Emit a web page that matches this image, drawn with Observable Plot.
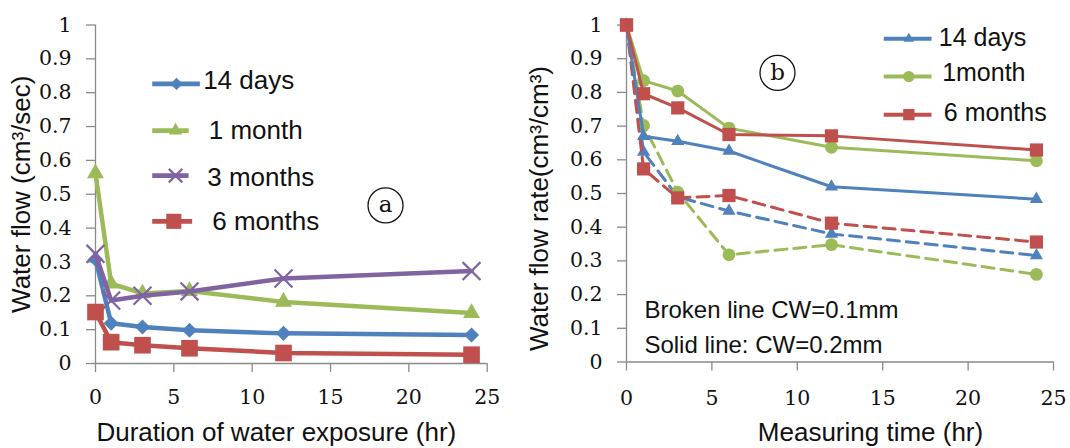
<!DOCTYPE html>
<html><head><meta charset="utf-8">
<script src="https://cdn.jsdelivr.net/npm/d3@7"></script>
<script src="https://cdn.jsdelivr.net/npm/@observablehq/plot@0.6"></script>
<style>
html,body{margin:0;padding:0;background:#fff;}
#wrap{position:relative;width:1070px;height:448px;overflow:hidden;background:#fff;}
#wrap > svg{position:absolute;top:0;}
</style></head><body><div id="wrap"></div>
<script>
// ---------- shared ----------
const hours = [0, 1, 3, 6, 12, 24];
const xTicks = [0, 5, 10, 15, 20, 25];
const yTicks = [0, 0.1, 0.2, 0.3, 0.4, 0.5, 0.6, 0.7, 0.8, 0.9, 1];

// ---------- panel (a): water flow (cm3/sec) ----------
const seriesA = ["14 days", "1 month", "3 months", "6 months"];
const flowA14Days   = [0.308, 0.119, 0.108, 0.098, 0.089, 0.084];
const flowA1Month   = [0.562, 0.236, 0.207, 0.214, 0.182, 0.149];
const flowA3Months  = [0.324, 0.186, 0.200, 0.213, 0.251, 0.273];
const flowA6Months  = [0.152, 0.063, 0.054, 0.045, 0.031, 0.026];

// ---------- panel (b): water flow rate (cm3/cm3) ----------
const seriesB = ["14 days", "1month", "6 months"];
// solid lines: CW = 0.2 mm
const rateB14DaysSolid  = [1.0, 0.670, 0.655, 0.626, 0.520, 0.483];
const rateB1MonthSolid  = [1.0, 0.835, 0.804, 0.694, 0.637, 0.597];
const rateB6MonthsSolid = [1.0, 0.796, 0.754, 0.675, 0.671, 0.629];
// broken lines: CW = 0.1 mm
const rateB14DaysBroken  = [1.0, 0.623, 0.490, 0.448, 0.380, 0.316];
const rateB1MonthBroken  = [1.0, 0.702, 0.504, 0.318, 0.348, 0.260];
const rateB6MonthsBroken = [1.0, 0.573, 0.487, 0.494, 0.412, 0.356];

// ---------- styling ----------
const BLUE = "#4F81BD", GREEN = "#9BBB59", PURPLE = "#8064A2", RED = "#C0504D";
const AXIS = "#8a8a8a", INK = "#111";
const SERIF = "DejaVu Serif", SANS = "Liberation Sans";

const rows = (name, vals) => hours.map((h, i) => ({series: name, hour: h, value: vals[i]}));

function axes(labelDy) {
  return [
    Plot.ruleY([0], {stroke: AXIS, strokeWidth: 1.3}),
    Plot.ruleX([0], {stroke: AXIS, strokeWidth: 1.3}),
    Plot.axisX({ticks: xTicks, tickSize: 9, stroke: AXIS, strokeWidth: 1.3, tickFormat: () => "", label: null}),
    Plot.axisY({ticks: yTicks, tickSize: 9, stroke: AXIS, strokeWidth: 1.3, tickFormat: () => "", label: null}),
    Plot.text(xTicks, {x: d => d, text: d => String(d), frameAnchor: "bottom", lineAnchor: "middle",
      textAnchor: "middle", dy: labelDy, fontSize: 20.5, fontFamily: SERIF, fill: INK}),
    Plot.text(yTicks, {y: d => d, text: d => d3.format("~g")(d), frameAnchor: "left", lineAnchor: "middle",
      textAnchor: "end", dx: -24, fontSize: 20.5, fontFamily: SERIF, fill: INK})
  ];
}

// ----- panel a -----
const aSpec = [
  {name: seriesA[0], vals: flowA14Days,  color: BLUE,   symbol: "diamond2",  r: 6.8,  lr: 5.6},
  {name: seriesA[1], vals: flowA1Month,  color: GREEN,  symbol: "triangle2", r: 8.1,  lr: 6.4},
  {name: seriesA[2], vals: flowA3Months, color: PURPLE, symbol: "times",     r: 8.2,  lr: 6.2},
  {name: seriesA[3], vals: flowA6Months, color: RED,    symbol: "square2",   r: 10.6, lr: 9.6}
];
// legend layout (data space of panel a)
const legA = {x1: 3.62, x2: [6.66, 5.95, 5.94, 6.17], mx: [5.17, 5.11, 5.11, 5.0],
              y: [0.826, 0.688, 0.555, 0.420], tx: [6.87, 7.23, 7.13, 7.45], ty: [0.836, 0.688, 0.549, 0.418]};

const aMarks = [...axes(34)];
aSpec.forEach((s, i) => {
  const d = rows(s.name, s.vals);
  aMarks.push(Plot.line(d, {x: "hour", y: "value", stroke: s.color, strokeWidth: 4.5, strokeLinejoin: "round"}));
  const dotOpts = s.symbol === "times"
    ? {stroke: s.color, strokeWidth: 2.2, fill: "none"}
    : {fill: s.color, stroke: "none"};
  aMarks.push(Plot.dot(d, {x: "hour", y: "value", symbol: s.symbol, r: s.r, ...dotOpts}));
  // legend
  const L = [{x1: legA.x1, x2: legA.x2[i], y: legA.y[i], mx: legA.mx[i], tx: legA.tx[i], ty: legA.ty[i], label: s.name}];
  aMarks.push(Plot.link(L, {x1: "x1", x2: "x2", y1: "y", y2: "y", stroke: s.color, strokeWidth: 4.8}));
  aMarks.push(Plot.dot(L, {x: "mx", y: "y", symbol: s.symbol, r: s.lr, ...dotOpts}));
  aMarks.push(Plot.text(L, {x: "tx", y: "ty", text: "label", textAnchor: "start", fontSize: 26, fontFamily: SANS, fill: INK}));
});
const tagA = [{x: 18.51, y: 0.467, t: "a"}];
aMarks.push(
  Plot.dot(tagA, {x: "x", y: "y", r: 17.5, stroke: INK, strokeWidth: 1.3, fill: "none"}),
  Plot.text(tagA, {x: "x", y: "y", text: "t", fontSize: 23, fontFamily: SERIF, fill: INK, dy: -1}),
  Plot.text(["Duration of water exposure (hr)"], {text: d => d, frameAnchor: "bottom", textAnchor: "middle",
    lineAnchor: "middle", dx: -15, dy: 69, fontSize: 26, fontFamily: SANS, fill: INK}),
  Plot.text(["Water flow (cm³/sec)"], {text: d => d, frameAnchor: "left", textAnchor: "middle",
    lineAnchor: "middle", rotate: -90, dx: -74, dy: 0, fontSize: 26, fontFamily: SANS, fill: INK})
);

const plotA = Plot.plot({
  width: 520, height: 448,
  marginLeft: 95, marginRight: 33.3, marginTop: 24.5, marginBottom: 85,
  x: {domain: [0, 25], axis: null},
  y: {domain: [0, 1], axis: null},
  style: {background: "transparent", overflow: "visible"},
  marks: aMarks
});
plotA.style.left = "0px";

// ----- panel b -----
const bSpec = [
  {name: seriesB[0], solid: rateB14DaysSolid,  broken: rateB14DaysBroken,  color: BLUE,  symbol: "triangle2", r: 6.3, lr: 5.0},
  {name: seriesB[1], solid: rateB1MonthSolid,  broken: rateB1MonthBroken,  color: GREEN, symbol: "circle",    r: 6.4, lr: 5.6},
  {name: seriesB[2], solid: rateB6MonthsSolid, broken: rateB6MonthsBroken, color: RED,   symbol: "square2",   r: 8.4, lr: 7.2}
];
const legB = {x1: 15.06, x2: 17.86, mx: 16.53, y: [0.959, 0.847, 0.734], tx: [18.28, 18.48, 18.58], ty: [0.962, 0.857, 0.740]};

const bMarks = [...axes(36.5)];
bSpec.forEach(s => {
  const d = rows(s.name, s.broken);
  bMarks.push(Plot.line(d, {x: "hour", y: "value", stroke: s.color, strokeWidth: 3, strokeDasharray: "12,7"}));
  bMarks.push(Plot.dot(d, {x: "hour", y: "value", symbol: s.symbol, r: s.r, fill: s.color, stroke: "none"}));
});
bSpec.forEach(s => {
  const d = rows(s.name, s.solid);
  bMarks.push(Plot.line(d, {x: "hour", y: "value", stroke: s.color, strokeWidth: 3, strokeLinejoin: "round"}));
  bMarks.push(Plot.dot(d, {x: "hour", y: "value", symbol: s.symbol, r: s.r, fill: s.color, stroke: "none"}));
});
bSpec.forEach((s, i) => {
  const L = [{x1: legB.x1, x2: legB.x2, y: legB.y[i], mx: legB.mx, tx: legB.tx[i], ty: legB.ty[i], label: s.name}];
  bMarks.push(Plot.link(L, {x1: "x1", x2: "x2", y1: "y", y2: "y", stroke: s.color, strokeWidth: 4}));
  bMarks.push(Plot.dot(L, {x: "mx", y: "y", symbol: s.symbol, r: s.lr, fill: s.color, stroke: "none"}));
  bMarks.push(Plot.text(L, {x: "tx", y: "ty", text: "label", textAnchor: "start", fontSize: 25, fontFamily: SANS, fill: INK}));
});
const tagB = [{x: 8.84, y: 0.858, t: "b"}];
const noteB = [{x: 1.05, y: 0.153, t: "Broken line CW=0.1mm"}, {x: 1.05, y: 0.049, t: "Solid line: CW=0.2mm"}];
bMarks.push(
  Plot.dot(tagB, {x: "x", y: "y", r: 17.5, stroke: INK, strokeWidth: 1.3, fill: "none"}),
  Plot.text(tagB, {x: "x", y: "y", text: "t", fontSize: 23, fontFamily: SERIF, fill: INK, dy: 0}),
  Plot.text(noteB, {x: "x", y: "y", text: "t", textAnchor: "start", fontSize: 24, fontFamily: SANS, fill: INK}),
  Plot.text(["Measuring time (hr)"], {text: d => d, frameAnchor: "bottom", textAnchor: "middle",
    lineAnchor: "middle", dx: 30.5, dy: 70.5, fontSize: 26, fontFamily: SANS, fill: INK}),
  Plot.text(["Water flow rate(cm³/cm³)"], {text: d => d, frameAnchor: "left", textAnchor: "middle",
    lineAnchor: "middle", rotate: -90, dx: -86.7, dy: 15, fontSize: 26, fontFamily: SANS, fill: INK})
);

const plotB = Plot.plot({
  width: 550, height: 448,
  marginLeft: 106, marginRight: 17, marginTop: 24.5, marginBottom: 86.5,
  x: {domain: [0, 25], axis: null},
  y: {domain: [0, 1], axis: null},
  style: {background: "transparent", overflow: "visible"},
  marks: bMarks
});
plotB.style.left = "520px";

const wrap = document.getElementById("wrap");
wrap.append(plotA, plotB);
</script>
</body></html>
